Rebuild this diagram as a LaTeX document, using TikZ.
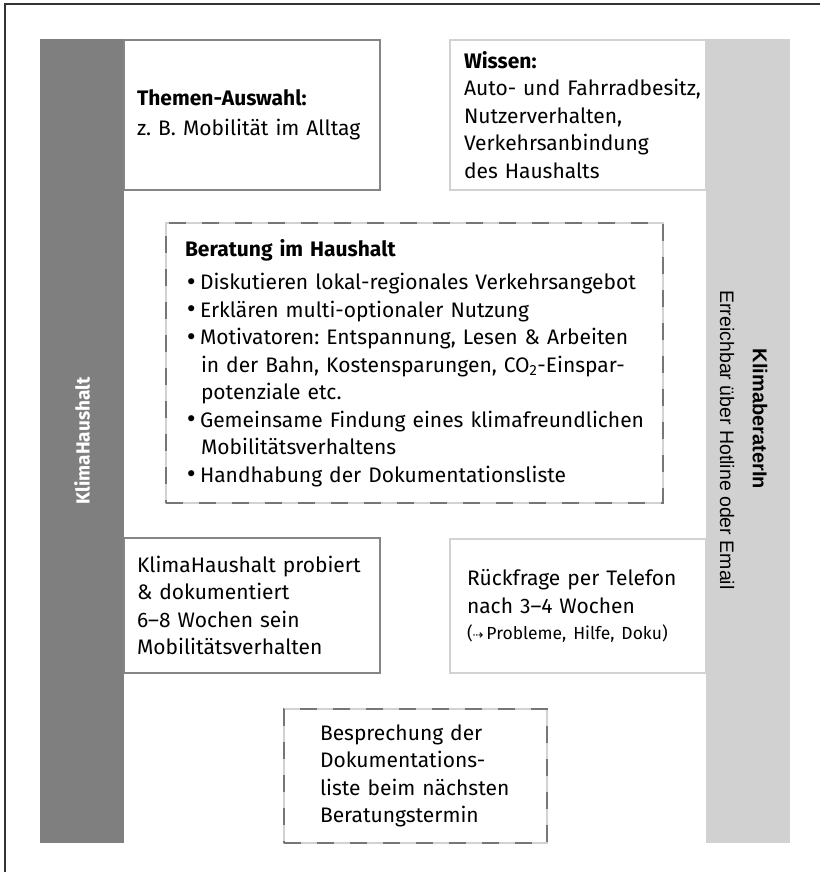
\documentclass[tikz,border=0pt]{standalone}
\usepackage{fontspec}
\setmainfont{Fira Sans}
\newfontfamily\barfont{Liberation Sans}
\newfontfamily\arrowfont{DejaVu Sans}
\usepackage{tikz}

\definecolor{barDark}{RGB}{127,127,127}
\definecolor{barLight}{RGB}{208,209,208}
\definecolor{edgeDark}{RGB}{133,133,133}
\definecolor{edgeLight}{RGB}{210,210,210}
\definecolor{dashDark}{RGB}{118,118,118}

\newcommand{\itemdot}{\makebox[15pt][l]{\arrowfont\raisebox{0.5pt}{•}}}
\newcommand{\itemgap}{\hspace*{16pt}}

\tikzset{
  txt/.style={font=\frenchspacing\fontsize{21}{27.5}\selectfont, align=left, text=black},
  boxdark/.style={txt, draw=edgeDark, fill=white, line width=2.5pt},
  boxlight/.style={txt, draw=edgeLight, fill=white, line width=2.5pt},
  boxdashed/.style={txt, draw=dashDark, line width=2.5pt, dash pattern=on 17pt off 16pt,
    preaction={draw=edgeLight, fill=white, solid}},
  bardark/.style={fill=barDark, inner sep=0pt},
  barlight/.style={fill=barLight, inner sep=0pt},
  bartxt/.style={font=\barfont\fontsize{19.5}{24}\selectfont, inner sep=0pt}
}

\begin{document}
\begin{tikzpicture}[x=1pt,y=-1pt]
      \useasboundingbox (0,0) rectangle (819,872);

      % frame
      \coordinate (frameBL) at (5,873);
      \coordinate (frameTL) at (5,4);
      \coordinate (frameTR) at (820,4);
      \draw[line width=1.4pt, black!80] (frameBL) -- (frameTL) -- (frameTR);

      % side bars
      \node[bardark, rotate=90, minimum width=804pt, minimum height=84pt,
        text=white, font=\bfseries\fontsize{19}{24}\selectfont] (haushaltbar) at (82,441) {KlimaHaushalt};
      \node[barlight, minimum width=84pt, minimum height=804pt] (beraterbar) at (748,441) {};
      \node[bartxt, rotate=-90, font=\barfont\bfseries\fontsize{20}{24}\selectfont] (beratername) at (760,419) {KlimaberaterIn};
      \node[bartxt, rotate=-90] (beraterkontakt) at (727,440) {Erreichbar über Hotline oder Email};

      % top row
      \node[boxdark, minimum width=256pt, minimum height=150pt, inner xsep=13pt, text width=230pt] (themen) at (252,115)
        {\textbf{Themen-Auswahl:}\\[2pt] z.~B. Mobilität im Alltag};
      \node[boxlight, minimum width=256pt, minimum height=150pt, inner xsep=14pt, text width=228pt] (wissen) at (578,115)
        {\textbf{Wissen:}\\ \mbox{Auto- und Fahrradbesitz,}\\ Nutzerverhalten,\\ Verkehrsanbindung\\ des Haushalts};

      % consultation
      \node[boxdashed, minimum width=497pt, minimum height=280pt, inner xsep=19pt, text width=459pt] (beratung) at (414.5,363)
        {\textbf{Beratung im Haushalt}\\[6pt]
         \itemdot\mbox{Diskutieren lokal-regionales Verkehrsangebot}\\
         \itemdot Erklären multi-optionaler Nutzung\\
         \itemdot\mbox{Motivatoren: Entspannung, Lesen \& Arbeiten}\\
         \itemgap\mbox{in der Bahn, Kostensparungen, CO\textsubscript{2}-Einspar-}\\
         \itemgap potenziale etc.\\
         \itemdot\mbox{Gemeinsame Findung eines klimafreundlichen}\\
         \itemgap Mobilitätsverhaltens\\
         \itemdot\mbox{Handhabung der Dokumentationsliste}};

      % bottom row
      \node[boxdark, minimum width=256pt, minimum height=135pt, inner xsep=13pt, text width=230pt] (probiert) at (252,605.5)
        {\mbox{KlimaHaushalt probiert}\\ \& dokumentiert\\ 6--8 Wochen sein\\ Mobilitätsverhalten};
      \node[boxlight, minimum width=256pt, minimum height=134pt, inner xsep=17pt, text width=222pt] (rueckfrage) at (578,606)
        {\mbox{Rückfrage per Telefon}\\ nach 3--4 Wochen\\[-1pt]
         {\fontsize{17.5}{20}\selectfont ({\arrowfont\fontsize{13}{20}\selectfont ⇢}\,Probleme, Hilfe, Doku)}};
      \node[boxdashed, minimum width=263pt, minimum height=134pt, inner xsep=36pt, text width=191pt] (besprechung) at (415.5,776)
        {Besprechung der\\ Dokumentations-\\ \mbox{liste beim nächsten}\\ Beratungstermin};
\end{tikzpicture}
\end{document}
